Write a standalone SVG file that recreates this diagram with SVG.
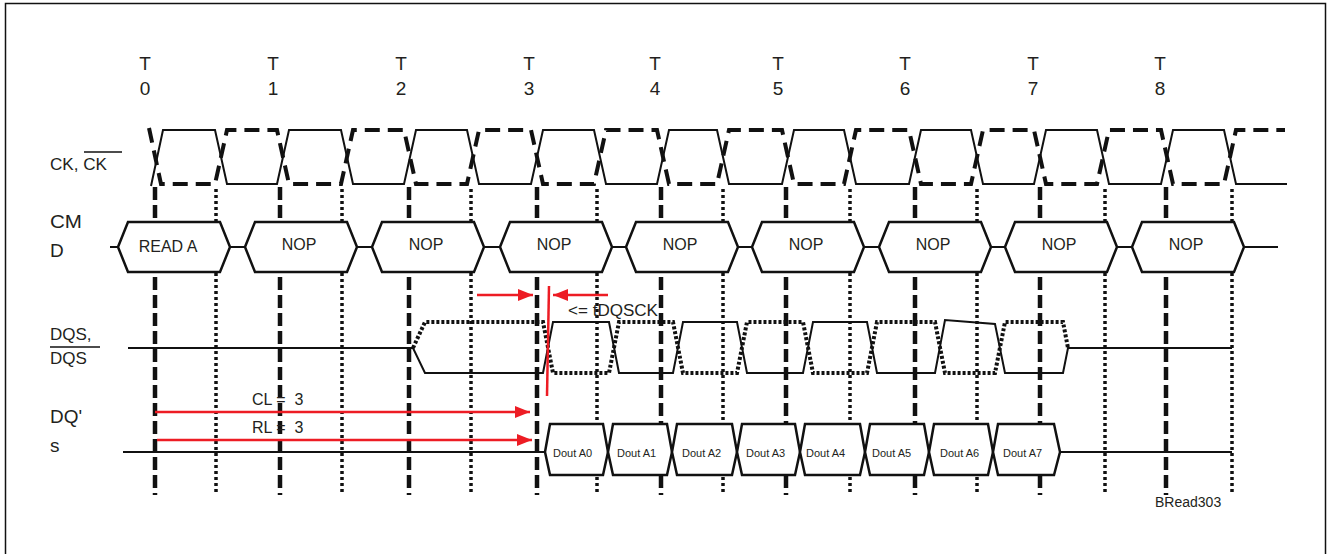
<svg xmlns="http://www.w3.org/2000/svg" width="1330" height="554" viewBox="0 0 1330 554">
<defs>
<marker id="ah" markerUnits="userSpaceOnUse" markerWidth="15" markerHeight="12" refX="15" refY="6" orient="auto">
<path d="M0,0 L15,6 L0,12 z" fill="#ed1c24"/>
</marker>
<style>
text{font-family:"Liberation Sans",Arial,sans-serif;fill:#231f20;white-space:pre}
.lbl{font-size:19px}
.t{font-size:19px;text-anchor:middle}
.cmd{font-size:16px}
.dout{font-size:11px}
.dash{stroke:#111;stroke-width:4.5;stroke-dasharray:13 5;fill:none}
.dot{stroke:#111;stroke-width:3.5;stroke-dasharray:3 3;fill:none}
.sig{stroke:#111;stroke-width:2;fill:none}
.ckn{stroke:#111;stroke-width:4;stroke-dasharray:15 8;fill:none}
.dqsn{stroke:#111;stroke-width:4;stroke-dasharray:3 2;fill:none}
.box{stroke:#111;stroke-width:2.5;fill:#fff}
.red{stroke:#ed1c24;stroke-width:2.5;fill:none}
</style>
</defs>
<rect x="5.5" y="3.5" width="1320" height="570" fill="#fff" stroke="#111" stroke-width="1.5"/>

<g id="time-labels">
<text class="t" x="145" y="70">T</text><text class="t" x="145" y="95">0</text>
<text class="t" x="273" y="70">T</text><text class="t" x="273" y="95">1</text>
<text class="t" x="401" y="70">T</text><text class="t" x="401" y="95">2</text>
<text class="t" x="529" y="70">T</text><text class="t" x="529" y="95">3</text>
<text class="t" x="655" y="70">T</text><text class="t" x="655" y="95">4</text>
<text class="t" x="778" y="70">T</text><text class="t" x="778" y="95">5</text>
<text class="t" x="905" y="70">T</text><text class="t" x="905" y="95">6</text>
<text class="t" x="1033" y="70">T</text><text class="t" x="1033" y="95">7</text>
<text class="t" x="1160" y="70">T</text><text class="t" x="1160" y="95">8</text>
</g>

<g id="signal-labels">
<text x="50" y="170" style="font-size:16px" textLength="57" lengthAdjust="spacingAndGlyphs">CK, CK</text>
<line x1="84" y1="152" x2="122" y2="152" stroke="#111" stroke-width="1.5"/>
<text class="lbl" x="50" y="228" textLength="32" lengthAdjust="spacingAndGlyphs">CM</text>
<text class="lbl" x="50" y="257">D</text>
<text x="50" y="340" style="font-size:17px">DQS,</text>
<line x1="50" y1="347" x2="100" y2="347" stroke="#111" stroke-width="1.5"/>
<text x="50" y="364" style="font-size:17px">DQS</text>
<text class="lbl" x="50" y="423" textLength="32" lengthAdjust="spacingAndGlyphs">DQ'</text>
<text class="lbl" x="50" y="452">s</text>
</g>

<g id="connectors">
<g id="grid">
<line class="dash" x1="155" y1="187" x2="155" y2="495"/>
<line class="dash" x1="280" y1="187" x2="280" y2="495"/>
<line class="dash" x1="409" y1="187" x2="409" y2="495"/>
<line class="dash" x1="537" y1="187" x2="537" y2="495"/>
<line class="dash" x1="661" y1="187" x2="661" y2="495"/>
<line class="dash" x1="786" y1="187" x2="786" y2="495"/>
<line class="dash" x1="915" y1="187" x2="915" y2="495"/>
<line class="dash" x1="1040" y1="187" x2="1040" y2="495"/>
<line class="dash" x1="1166" y1="187" x2="1166" y2="495"/>
<line class="dot" x1="216" y1="189" x2="216" y2="495"/>
<line class="dot" x1="342" y1="189" x2="342" y2="495"/>
<line class="dot" x1="471" y1="189" x2="471" y2="495"/>
<line class="dot" x1="597" y1="189" x2="597" y2="495"/>
<line class="dot" x1="723" y1="189" x2="723" y2="495"/>
<line class="dot" x1="850" y1="189" x2="850" y2="495"/>
<line class="dot" x1="977" y1="189" x2="977" y2="495"/>
<line class="dot" x1="1105" y1="189" x2="1105" y2="495"/>
<line class="dot" x1="1232" y1="189" x2="1232" y2="495"/>
</g>
<path id="ck" class="sig" d="M151,186 L163,130 L215,130 L227,184 L277,184 L289,130 L341,130 L353,184 L404,184 L416,130 L467,130 L479,184 L531,184 L543,130 L594,130 L606,184 L657,184 L669,130 L717,130 L729,184 L782,184 L794,130 L844,130 L856,184 L909,184 L921,130 L971,130 L983,184 L1034,184 L1046,130 L1097,130 L1109,184 L1161,184 L1173,130 L1224,130 L1236,184 L1287,184"/>
<path id="ckn" class="ckn" d="M149,128 L161,184 L215,184 L227,130 L277,130 L289,184 L341,184 L353,130 L404,130 L416,184 L467,184 L479,130 L531,130 L543,184 L594,184 L606,130 L657,130 L669,184 L717,184 L729,130 L782,130 L794,184 L844,184 L856,130 L909,130 L921,184 L971,184 L983,130 L1034,130 L1046,184 L1097,184 L1109,130 L1161,130 L1173,184 L1224,184 L1236,130 L1285,130"/>
<path id="cmd-line" class="sig" d="M110,247 H118 M230,247 H245 M357,247 H372 M484,247 H500 M612,247 H626 M738,247 H752 M864,247 H879 M991,247 H1005 M1117,247 H1132 M1244,247 H1278"/>
<path id="dqs" class="sig" d="M128,348 L413,348 L425,373 L543,373 L553,322 L609,322 L619,373 L673,373 L683,322 L737,322 L747,373 L803,373 L813,322 L867,322 L877,373 L935,373 L945,320 L995,324 L1005,373 L1063,373 L1068,348 L1232,348"/>
<path id="dqsn" class="dqsn" d="M413,348 L425,322 L543,322 L553,373 L609,373 L619,322 L673,322 L683,373 L737,373 L747,322 L803,322 L813,373 L867,373 L877,322 L935,322 L945,373 L995,373 L1005,322 L1063,322 L1068,348"/>
<path id="dq-line" class="sig" d="M123,452 H545 M1060,452 H1232"/>
<g id="timing-arrows">
<line class="red" x1="549" y1="286" x2="547" y2="396"/>
<line class="red" x1="477" y1="295" x2="533" y2="295" marker-end="url(#ah)"/>
<line class="red" x1="608" y1="295" x2="553" y2="295" marker-end="url(#ah)"/>
<line class="red" x1="155" y1="412" x2="530" y2="412" marker-end="url(#ah)"/>
<line class="red" x1="157" y1="440" x2="532" y2="440" marker-end="url(#ah)"/>
</g>
</g>

<g id="timing-labels">
<text x="568" y="316" style="font-size:16px" textLength="90" lengthAdjust="spacingAndGlyphs">&lt;= tDQSCK</text>
<text x="252" y="405" style="font-size:16px">CL =  3</text>
<text x="252" y="433" style="font-size:16px">RL =  3</text>
<text x="1155" y="507" style="font-size:14px">BRead303</text>
</g>

<g id="cmd0"><path class="box" d="M118,247 L128,222 L220,222 L230,247 L220,272 L128,272 Z"/><text class="cmd" x="168" y="252" text-anchor="middle">READ A</text></g>
<g id="cmd1"><path class="box" d="M245,247 L255,222 L347,222 L357,247 L347,272 L255,272 Z"/><text class="cmd" x="299" y="250" text-anchor="middle">NOP</text></g>
<g id="cmd2"><path class="box" d="M372,247 L382,222 L474,222 L484,247 L474,272 L382,272 Z"/><text class="cmd" x="426" y="250" text-anchor="middle">NOP</text></g>
<g id="cmd3"><path class="box" d="M500,247 L510,222 L602,222 L612,247 L602,272 L510,272 Z"/><text class="cmd" x="554" y="250" text-anchor="middle">NOP</text></g>
<g id="cmd4"><path class="box" d="M626,247 L636,222 L728,222 L738,247 L728,272 L636,272 Z"/><text class="cmd" x="680" y="250" text-anchor="middle">NOP</text></g>
<g id="cmd5"><path class="box" d="M752,247 L762,222 L854,222 L864,247 L854,272 L762,272 Z"/><text class="cmd" x="806" y="250" text-anchor="middle">NOP</text></g>
<g id="cmd6"><path class="box" d="M879,247 L889,222 L981,222 L991,247 L981,272 L889,272 Z"/><text class="cmd" x="933" y="250" text-anchor="middle">NOP</text></g>
<g id="cmd7"><path class="box" d="M1005,247 L1015,222 L1107,222 L1117,247 L1107,272 L1015,272 Z"/><text class="cmd" x="1059" y="250" text-anchor="middle">NOP</text></g>
<g id="cmd8"><path class="box" d="M1132,247 L1142,222 L1234,222 L1244,247 L1234,272 L1142,272 Z"/><text class="cmd" x="1186" y="250" text-anchor="middle">NOP</text></g>

<g id="dout0"><path class="box" d="M545,452 L550,424 L603,424 L608,452 L603,475 L550,475 Z"/><text class="dout" x="553" y="457">Dout A0</text></g>
<g id="dout1"><path class="box" d="M608,452 L613,424 L667,424 L672,452 L667,475 L613,475 Z"/><text class="dout" x="617" y="457">Dout A1</text></g>
<g id="dout2"><path class="box" d="M672,452 L677,424 L732,424 L737,452 L732,475 L677,475 Z"/><text class="dout" x="682" y="457">Dout A2</text></g>
<g id="dout3"><path class="box" d="M737,452 L742,424 L795,424 L800,452 L795,475 L742,475 Z"/><text class="dout" x="746" y="457">Dout A3</text></g>
<g id="dout4"><path class="box" d="M800,452 L805,424 L860,424 L865,452 L860,475 L805,475 Z"/><text class="dout" x="806" y="457">Dout A4</text></g>
<g id="dout5"><path class="box" d="M865,452 L870,424 L924,424 L929,452 L924,475 L870,475 Z"/><text class="dout" x="872" y="457">Dout A5</text></g>
<g id="dout6"><path class="box" d="M929,452 L934,424 L988,424 L993,452 L988,475 L934,475 Z"/><text class="dout" x="940" y="457">Dout A6</text></g>
<g id="dout7"><path class="box" d="M993,452 L998,424 L1054,424 L1060,452 L1054,475 L998,475 Z"/><text class="dout" x="1003" y="457">Dout A7</text></g>
</svg>
